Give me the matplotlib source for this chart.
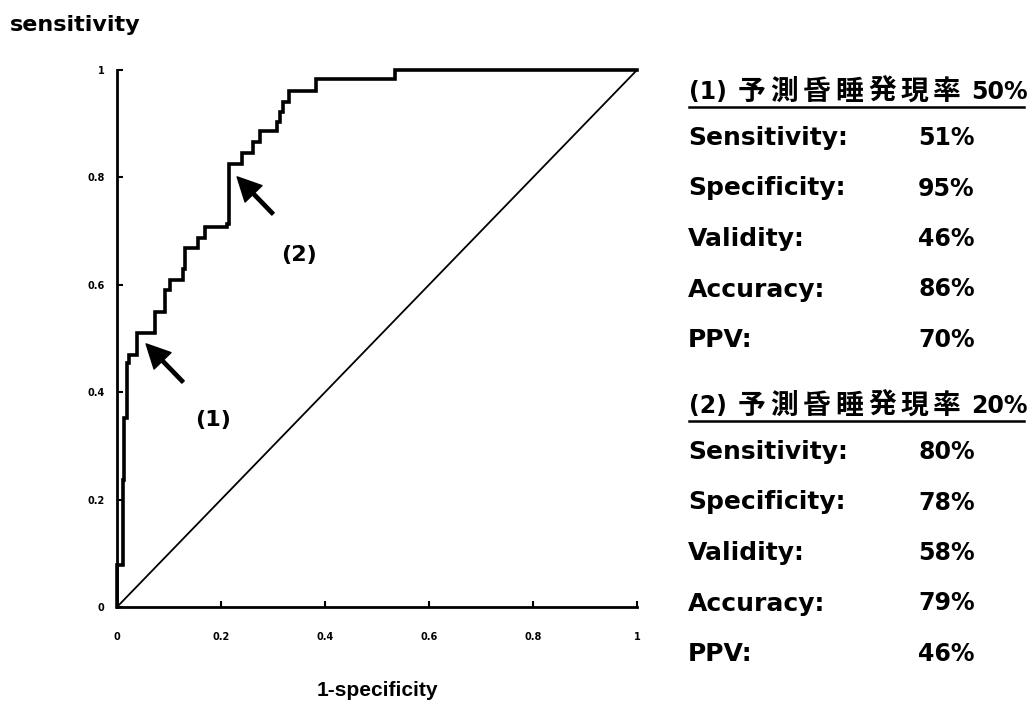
import matplotlib
matplotlib.use('Agg')
import matplotlib.pyplot as plt
from matplotlib.lines import Line2D

plt.rcParams['font.family'] = ['DejaVu Sans', 'Noto Sans CJK JP']

# ROC step corners (1-specificity, sensitivity)
fpr = [0, 0, 0.0115, 0.0135, 0.019, 0.023, 0.038, 0.073, 0.092, 0.102,
       0.127, 0.131, 0.156, 0.169, 0.212, 0.215, 0.240, 0.262, 0.275,
       0.308, 0.313, 0.319, 0.331, 0.383, 0.535, 1.0]
tpr = [0, 0.078, 0.236, 0.352, 0.454, 0.469, 0.510, 0.549, 0.590, 0.609,
       0.629, 0.669, 0.687, 0.708, 0.713, 0.825, 0.845, 0.866, 0.886,
       0.903, 0.922, 0.940, 0.961, 0.983, 1.0, 1.0]

ticks = [0, 0.2, 0.4, 0.6, 0.8, 1]
tick_labels = ['0', '0.2', '0.4', '0.6', '0.8', '1']

# cut-off points marked on the curve
cut_names = ['(1)', '(2)']
cut_rates = ['50%', '20%']
arrow_tips = [(0.056, 0.490), (0.231, 0.801)]
arrow_tails = [(0.127, 0.419), (0.300, 0.732)]
label_pos = [(0.185, 0.348), (0.350, 0.655)]

header_word = '予測昏睡発現率'
stat_names = ['Sensitivity:', 'Specificity:', 'Validity:', 'Accuracy:', 'PPV:']
stats_1 = ['51%', '95%', '46%', '86%', '70%']
stats_2 = ['80%', '78%', '58%', '79%', '46%']

W, H = 1029, 705
fig = plt.figure(figsize=(W / 100, H / 100), dpi=100)
ax = fig.add_axes([117 / W, 1 - 607 / H, 520 / W, 537 / H])

ax.plot(fpr, tpr, drawstyle='steps-post', color='black', lw=2.6,
        solid_joinstyle='miter', clip_on=False, zorder=3)
ax.plot([0, 1], [0, 1], color='black', lw=1.3, clip_on=False)

for tip, tail in zip(arrow_tips, arrow_tails):
    ax.annotate('', xy=tip, xytext=tail,
                arrowprops=dict(facecolor='black', edgecolor='black',
                                width=2.4, headwidth=17, headlength=17))
for name, pos in zip(cut_names, label_pos):
    ax.text(pos[0], pos[1], name, ha='center', va='center',
            fontsize=16, fontweight='bold')

ax.set_xlim(0, 1)
ax.set_ylim(0, 1)
for s in ['top', 'right']:
    ax.spines[s].set_visible(False)
for s in ['left', 'bottom']:
    ax.spines[s].set_linewidth(2)
ax.set_xticks(ticks)
ax.set_xticklabels(tick_labels)
ax.set_yticks(ticks)
ax.set_yticklabels(tick_labels)
ax.tick_params(axis='both', direction='in', length=4, width=1.5,
               labelsize=7)
ax.tick_params(axis='x', pad=18)
ax.tick_params(axis='y', pad=9)
for lab in ax.get_xticklabels() + ax.get_yticklabels():
    lab.set_fontweight('bold')

fig.text(10 / W, 1 - 25 / H, 'sensitivity', ha='left', va='center',
         fontsize=16, fontweight='bold')
fig.text(377 / W, 1 - 690 / H, '1-specificity', ha='center', va='center',
         fontsize=15, fontweight='bold', family='Liberation Sans')

# summary tables on the right
def table(top, name, rate, values):
    yh = 1 - top / H
    fig.text(689 / W, yh, name, ha='left', va='center',
             fontsize=17, fontweight='bold')
    for i, ch in enumerate(header_word):
        fig.text((752 + 32.5 * i) / W, yh, ch, ha='center', va='center',
                 fontsize=20, fontweight='bold')
    fig.text(1028 / W, yh, rate, ha='right', va='center',
             fontsize=17, fontweight='bold')
    fig.add_artist(Line2D([689 / W, 1024 / W], [1 - (top + 15) / H] * 2,
                          color='black', lw=1.8))
    for i, (lab, val) in enumerate(zip(stat_names, values)):
        y = 1 - (top + 46 + 50.5 * i) / H
        fig.text(688 / W, y, lab, ha='left', va='center',
                 fontsize=18, fontweight='bold')
        fig.text(918 / W, y, val, ha='left', va='center',
                 fontsize=17, fontweight='bold')

table(92, cut_names[0], cut_rates[0], stats_1)
table(406, cut_names[1], cut_rates[1], stats_2)

fig.savefig('out.png', dpi=100)
